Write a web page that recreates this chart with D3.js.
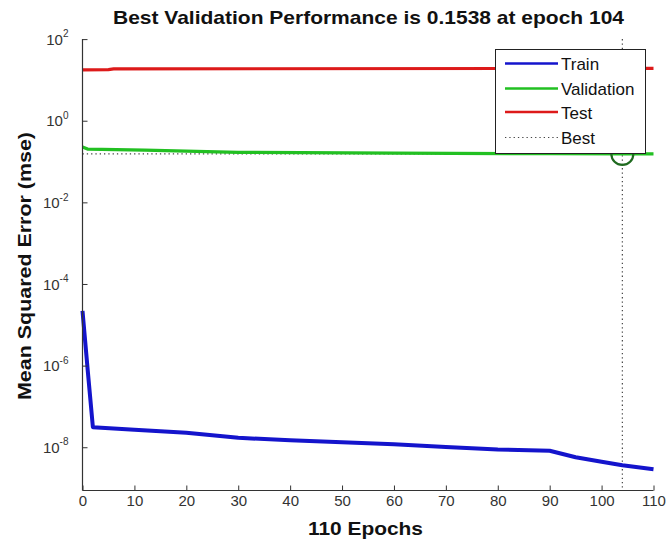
<!DOCTYPE html>
<html>
<head>
<meta charset="utf-8">
<script src="https://cdn.jsdelivr.net/npm/d3@7"></script>
<style>
  html, body { margin: 0; padding: 0; background: #fff; }
  svg { display: block; }
  text { font-family: "Liberation Sans", Arial, Helvetica, sans-serif; }
</style>
</head>
<body>
<svg id="chart" width="670" height="545"></svg>
<script>
// ---- data ----
const trainEpochs = [0, 1, 2, 10, 20, 30, 40, 50, 60, 70, 80, 90, 95, 100, 104, 110];
const trainValues = [2.2e-5, 7.8e-7, 3.1e-8, 2.7e-8, 2.25e-8, 1.7e-8, 1.49e-8, 1.33e-8, 1.19e-8, 1.02e-8, 8.8e-9, 8.2e-9, 5.7e-9, 4.4e-9, 3.64e-9, 2.9e-9];
const valEpochs = [0, 1, 12, 30, 60, 90, 104, 110];
const valValues = [0.226, 0.202, 0.19, 0.168, 0.16, 0.156, 0.1538, 0.1545];
const testEpochs = [0, 5, 6, 110];
const testValues = [17.6, 17.8, 18.6, 19.2];
const bestEpoch = 104;
const bestValue = 0.1538;
const xTicks = [0, 10, 20, 30, 40, 50, 60, 70, 80, 90, 100, 110];
const yTickExps = [2, 0, -2, -4, -6, -8];
const legendLabels = ["Train", "Validation", "Test", "Best"];
const titleText = "Best Validation Performance is 0.1538 at epoch 104";
const xLabelText = "110 Epochs";
const yLabelText = "Mean Squared Error  (mse)";

// ---- layout ----
const svg = d3.select("#chart");
const x = d3.scaleLinear().domain([0, 110]).range([82.5, 653.5]);
const y = d3.scaleLog().domain([Math.pow(10, -9.06), 100]).range([490.5, 39.1]);

const colTrain = "#1414cc", colVal = "#22c022", colTest = "#dd1a1a", colBest = "#444";
const axisCol = "#333";

const line = d3.line().x(d => x(d[0])).y(d => y(d[1]));
const zip = (a, b) => a.map((v, i) => [v, b[i]]);

const plot = svg.append("g");
// best dotted lines
plot.append("line")
  .attr("x1", x(0)).attr("x2", x(bestEpoch))
  .attr("y1", y(bestValue)).attr("y2", y(bestValue))
  .attr("stroke", colBest).attr("stroke-width", 1.2).attr("stroke-dasharray", "1.3,3");
plot.append("line")
  .attr("x1", x(bestEpoch)).attr("x2", x(bestEpoch))
  .attr("y1", y.range()[1]).attr("y2", y.range()[0])
  .attr("stroke", colBest).attr("stroke-width", 1.2).attr("stroke-dasharray", "1.3,3");

plot.append("path").datum(zip(testEpochs, testValues)).attr("d", line)
  .attr("fill", "none").attr("stroke", colTest).attr("stroke-width", 3.2);
plot.append("path").datum(zip(valEpochs, valValues)).attr("d", line)
  .attr("fill", "none").attr("stroke", colVal).attr("stroke-width", 3.2);
plot.append("path").datum(zip(trainEpochs, trainValues)).attr("d", line)
  .attr("fill", "none").attr("stroke", colTrain).attr("stroke-width", 4)
  .attr("stroke-linejoin", "round");

// best circle
plot.append("circle")
  .attr("cx", x(bestEpoch)).attr("cy", y(bestValue)).attr("r", 11)
  .attr("fill", "none").attr("stroke", "#1f6a1f").attr("stroke-width", 2.2);

// axes
const xAxis = d3.axisBottom(x).tickValues(xTicks).tickSize(-5).tickPadding(10).tickFormat(d3.format("d"));
const gx = svg.append("g").attr("transform", `translate(0,${y.range()[0]})`).call(xAxis);
gx.select(".domain").attr("stroke", axisCol).attr("stroke-width", 1.2).attr("d", `M${x(0)},0H${x(110)}`);
gx.selectAll(".tick line").attr("stroke", axisCol);
gx.selectAll(".tick text").attr("font-size", 15).attr("fill", "#333")
  .attr("font-family", '"Liberation Sans", Arial, sans-serif').attr("dy", "0.35em");

const yAxis = d3.axisLeft(y).tickValues(yTickExps.map(e => Math.pow(10, e))).tickSize(-5).tickFormat(() => "");
const gy = svg.append("g").attr("transform", `translate(${x.range()[0]},0)`).call(yAxis);
gy.select(".domain").attr("stroke", axisCol).attr("stroke-width", 1.2)
  .attr("d", `M0,${y.range()[1]}V${y.range()[0]}`);
gy.selectAll(".tick line").attr("stroke", axisCol);
gy.selectAll(".tick").each(function(d) {
  const e = Math.round(Math.log10(d));
  const t = d3.select(this).append("text")
    .attr("x", -14).attr("y", 0).attr("dy", "0.35em")
    .attr("text-anchor", "end").attr("fill", "#333")
    .attr("font-size", 15);
  t.append("tspan").text("10");
  t.append("tspan").attr("font-size", 10).attr("dy", "-0.75em").text(String(e));
});

// legend
const lg = svg.append("g");
lg.append("rect").attr("x", 495.5).attr("y", 49.5).attr("width", 150).attr("height", 104)
  .attr("fill", "#fff").attr("stroke", "#222").attr("stroke-width", 1);
const legendColors = [colTrain, colVal, colTest, colBest];
const legendY = [63.5, 88.5, 112, 137.5];
legendLabels.forEach((lab, i) => {
  const l = lg.append("line").attr("x1", 505).attr("x2", 558)
    .attr("y1", legendY[i]).attr("y2", legendY[i])
    .attr("stroke", legendColors[i]).attr("stroke-width", i === 3 ? 1.2 : 2.6);
  if (i === 3) l.attr("stroke-dasharray", "1.3,3");
  lg.append("text").attr("x", 561).attr("y", legendY[i] + 6.5)
    .attr("font-size", 17).attr("fill", "#111").text(lab);
});

// title & labels
svg.append("text").attr("x", 368.5).attr("y", 24).attr("text-anchor", "middle")
  .attr("font-size", 19).attr("font-weight", "bold").attr("fill", "#111")
  .attr("textLength", 511).attr("lengthAdjust", "spacingAndGlyphs").text(titleText);
svg.append("text").attr("x", 365.5).attr("y", 535).attr("text-anchor", "middle")
  .attr("font-size", 19).attr("font-weight", "bold").attr("fill", "#111")
  .attr("textLength", 115).attr("lengthAdjust", "spacingAndGlyphs").text(xLabelText);
svg.append("text").attr("transform", "translate(31,266) rotate(-90)").attr("text-anchor", "middle")
  .attr("font-size", 19).attr("font-weight", "bold").attr("fill", "#111")
  .attr("textLength", 268).attr("lengthAdjust", "spacingAndGlyphs").text(yLabelText);
</script>
</body>
</html>
